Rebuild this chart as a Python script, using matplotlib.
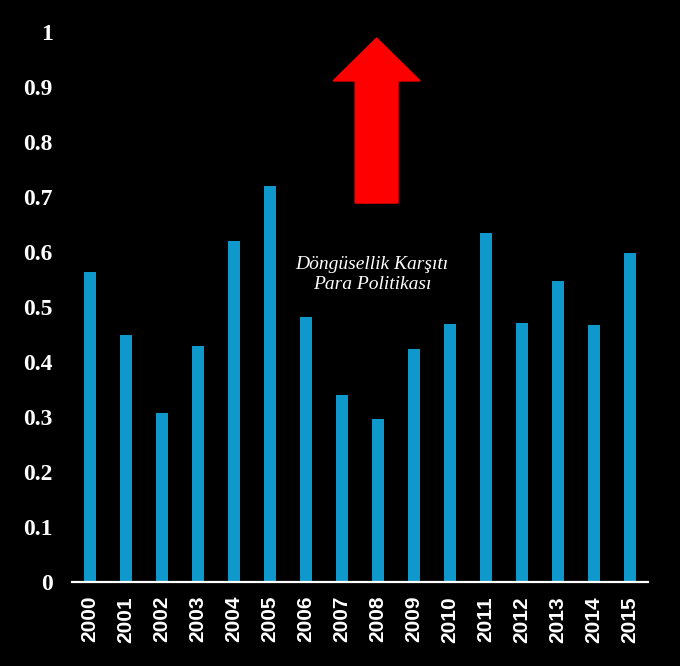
import matplotlib
matplotlib.use("Agg")
import matplotlib.pyplot as plt
from matplotlib.patches import FancyArrow

years = ["2000", "2001", "2002", "2003", "2004", "2005", "2006", "2007",
         "2008", "2009", "2010", "2011", "2012", "2013", "2014", "2015"]
values = [0.564, 0.449, 0.307, 0.429, 0.620, 0.720, 0.482, 0.340,
          0.296, 0.424, 0.469, 0.635, 0.471, 0.547, 0.467, 0.598]
yticks = [0, 0.1, 0.2, 0.3, 0.4, 0.5, 0.6, 0.7, 0.8, 0.9, 1]
ytick_labels = ["0", "0.1", "0.2", "0.3", "0.4", "0.5", "0.6", "0.7", "0.8", "0.9", "1"]
annotation = "Döngüsellik Karşıtı\nPara Politikası"

fig = plt.figure(figsize=(6.8, 6.66), dpi=100, facecolor="black")
ax = fig.add_axes([72/680, 84/666, 576/680, 550/666])
ax.set_facecolor("black")

x = list(range(len(years)))
ax.bar(x, values, width=0.33, color="#0F98CC")

ax.set_xlim(-0.5, len(years) - 0.5)
ax.set_ylim(0, 1)
ax.set_yticks(yticks)
ax.set_yticklabels(ytick_labels, fontfamily="Liberation Serif", fontweight="bold",
                   fontsize=17, color="white")
ax.set_xticks(x)
ax.set_xticklabels(years, rotation=90, fontfamily="Liberation Sans", fontweight="bold",
                   fontsize=15, color="white")
ax.tick_params(axis="y", length=0, pad=14)
ax.tick_params(axis="x", length=0, pad=10)

for s in ["top", "right", "left"]:
    ax.spines[s].set_visible(False)
ax.spines["bottom"].set_color("white")
ax.spines["bottom"].set_linewidth(1.6)

arrow = FancyArrow(7.96, 0.689, 0, 0.30, width=1.19, head_width=2.42,
                   head_length=0.078, length_includes_head=True,
                   color="#FF0000", transform=ax.transData)
ax.add_patch(arrow)

ax.text(7.83, 0.559, annotation, ha="center", va="center", color="white",
        fontfamily="Liberation Serif", fontstyle="italic", fontsize=14,
        linespacing=1.3)

fig.savefig("out.png", dpi=100, facecolor="black")
